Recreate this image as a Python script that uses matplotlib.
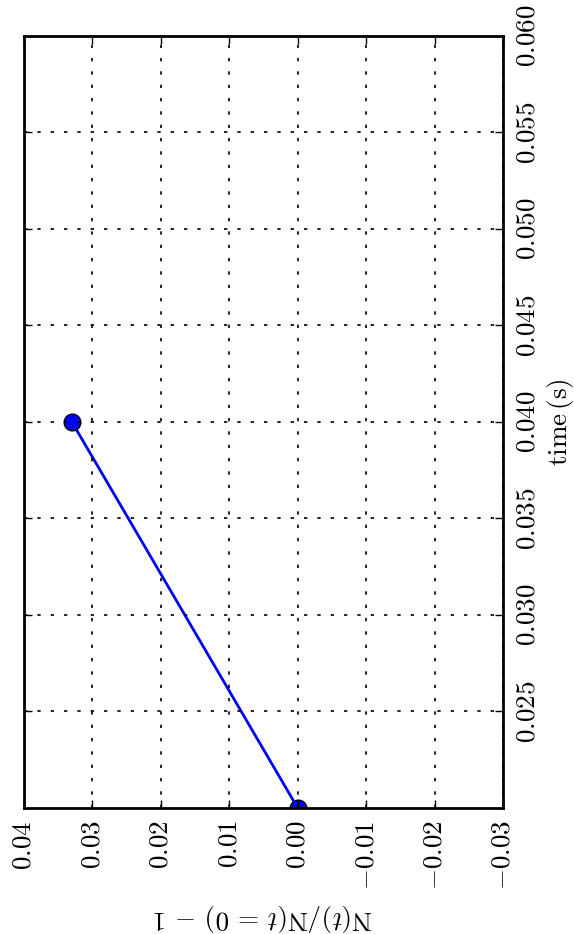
import matplotlib
matplotlib.use("Agg")
import matplotlib.pyplot as plt

# data
time_s = [0.02, 0.04]
rel_change = [0.0, 0.033]

x_ticks = [0.04, 0.03, 0.02, 0.01, 0.00, -0.01, -0.02, -0.03]
y_ticks = [0.025, 0.030, 0.035, 0.040, 0.045, 0.050, 0.055, 0.060]

plt.rcParams['font.family'] = 'serif'
plt.rcParams['font.serif'] = ['cmr10']
plt.rcParams['mathtext.fontset'] = 'cm'
plt.rcParams['axes.formatter.use_mathtext'] = True
plt.rcParams['axes.unicode_minus'] = True

fig = plt.figure(figsize=(5.74, 9.34), dpi=100)
ax = fig.add_axes([24/574, 1-808/934, (503-24)/574, (808-36)/934])
ax.set_axisbelow(False)

ax.plot(rel_change, time_s, '-o', color='blue', lw=2, markersize=12,
        markerfacecolor='blue', markeredgecolor='black', markeredgewidth=1, zorder=2)

ax.set_xlim(0.04, -0.03)
ax.set_ylim(0.02, 0.06)
ax.set_xticks(x_ticks)
ax.set_xticklabels([f"${v:.2f}$" for v in x_ticks], rotation=90, fontsize=19.5)
ax.set_yticks(y_ticks)
ax.set_yticklabels([f"${v:.3f}$" for v in y_ticks], rotation=90, fontsize=19.5, va='center')
ax.yaxis.tick_right()
ax.yaxis.set_label_position('right')
ax.tick_params(direction='in', length=6, width=1, top=True, bottom=True, left=True, right=True, pad=9)

ax.grid(True, color='black', linestyle=(0, (2, 6)), linewidth=1.2)
for s in ax.spines.values():
    s.set_linewidth(2)

ax.set_xlabel(r'N$(t)$/N$(t\,=\,0)\,-\,1$', fontsize=19.5, rotation=180, labelpad=8)
ax.set_ylabel(r'time$\,$(s)', fontsize=19.5, rotation=90, labelpad=4)

fig.savefig('out.png', dpi=100)
